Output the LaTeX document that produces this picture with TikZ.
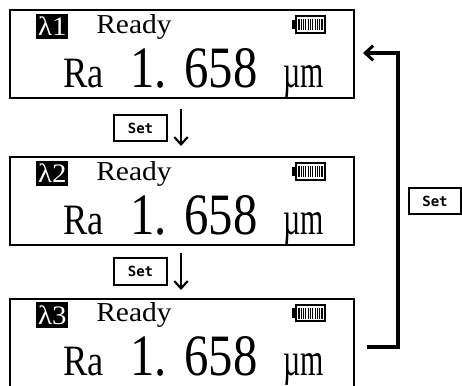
\documentclass[tikz,border=0pt]{standalone}
\usepackage{fontspec}
\usepackage{graphicx}
\setmainfont{Liberation Serif}
\newfontfamily\setfont{DejaVu Sans Mono}
\usetikzlibrary{arrows.meta}
\tikzset{
  x=0.75pt,y=-0.75pt,
  lcdbox/.style={draw=black,line width=1.8pt,fill=white,inner sep=0pt,minimum width=258pt,minimum height=66pt,anchor=north west},
  setbox/.style={draw=black,line width=1.5pt,fill=white,inner sep=0pt,minimum width=39.5pt,minimum height=20pt,font=\setfont\fontsize{10.5}{12}\selectfont\bfseries},
  txt/.style={inner sep=0pt,text=black,anchor=base west},
  lab/.style={fill=black,text=white,inner sep=0pt,minimum width=24pt,minimum height=19pt,anchor=north west,font=\fontsize{20}{20}\selectfont},
  arr/.style={line width=2pt,-{Straight Barb[length=5.5pt,width=10pt,line width=1.6pt]}},
  bigarr/.style={line width=3pt,-{Straight Barb[length=6pt,width=11pt,line width=2.2pt]}},
  batt/.style={draw=black,fill=white,line width=1.6pt,inner sep=0pt,minimum width=21.5pt,minimum height=12.5pt,anchor=center},
  battcap/.style={fill=black,inner sep=0pt,minimum width=2.4pt,minimum height=7pt,anchor=east},
}
\newcommand{\lcdpanel}[3]{%
  \node[lcdbox] (#1) at (9,#2) {};
  \node[lab] (#1lab) at (36,#2+4.5) {\scalebox{1.08}[1]{λ#3}};
  \node[txt,font=\fontsize{20.5}{21}\selectfont] (#1rdy) at (96,#2+24) {\scalebox{1.08}[1]{Ready}};
  \node[batt] (#1bat) at (310.5,#2+15.5) {};
  \node[battcap] (#1cap) at (#1bat.west) {};
  \foreach \i in {-5,...,5} {\fill[black] (310.5+\i*2.3-0.55,#2+10) rectangle (310.5+\i*2.3+0.55,#2+21);}
  \node[txt,font=\fontsize{32.5}{34}\selectfont] (#1ra) at (63,#2+78) {\scalebox{0.84}[1]{Ra}};
  \node[txt,font=\fontsize{44}{46}\selectfont] (#1val) at (130,#2+78) {\scalebox{0.83}[1]{1.\hspace{16pt}658}};
  \node[txt,font=\fontsize{35}{36}\selectfont] (#1unit) at (283,#2+78) {\scalebox{0.64}[1]{µm}};
}
\begin{document}
\begin{tikzpicture}
\useasboundingbox (0,0) rectangle (462,386);
\lcdpanel{pa}{9}{1}
\lcdpanel{pb}{156}{2}
\lcdpanel{pc}{297.5}{3}
\node[setbox] (s1) at (140.5,128) {Set};
\node[setbox] (s2) at (140.5,271.5) {Set};
\node[setbox] (s3) at (435,201) {Set};
\coordinate (a1s) at (181,109);
\coordinate (a1e) at (181,146);
\coordinate (a2s) at (181,253);
\coordinate (a2e) at (181,290);
\coordinate (rs) at (367,347);
\coordinate (rc1) at (398,347);
\coordinate (rc2) at (398,53);
\coordinate (re) at (363,53);
\draw[arr] (a1s) -- (a1e);
\draw[arr] (a2s) -- (a2e);
\draw[bigarr] (rs) -- (rc1) -- (rc2) -- (re);
\end{tikzpicture}
\end{document}
